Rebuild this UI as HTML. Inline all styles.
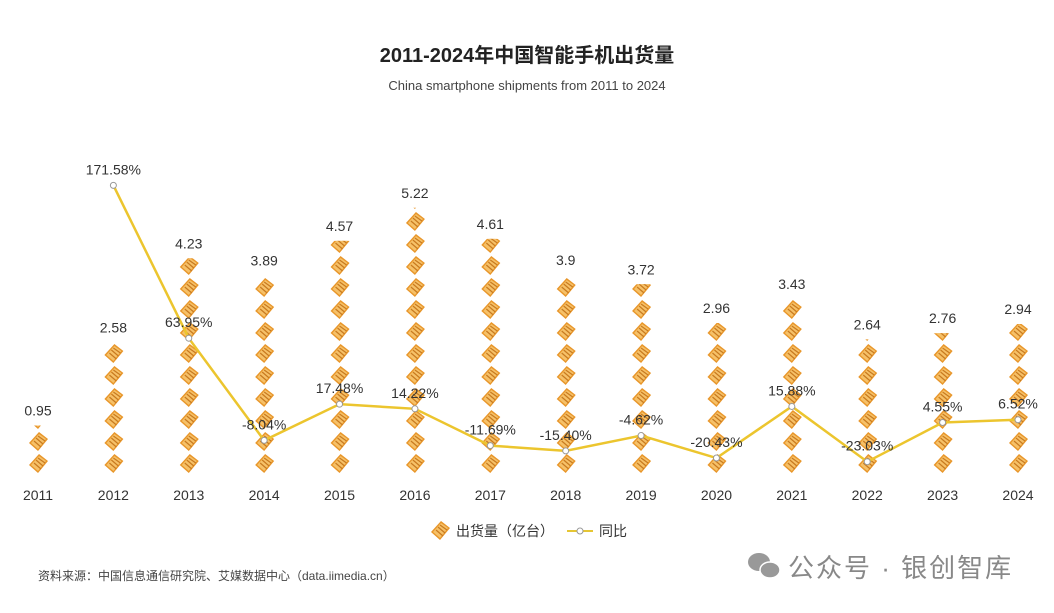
<!DOCTYPE html>
<html><head><meta charset="utf-8">
<style>
body{margin:0;background:#fff;}
svg text{font-family:"Liberation Sans","Noto Sans CJK SC",sans-serif;}
</style></head>
<body>
<svg id="chart" width="1054" height="608" viewBox="0 0 1054 608" xmlns="http://www.w3.org/2000/svg">
<defs>
<g id="sym">
  <polygon points="3,13 13,2 22,9 12,21" fill="#e8962a"/>
  <polygon points="5,13 13,4 20,9 12,19" fill="#f6c168"/>
  <line x1="8" y1="11" x2="15" y2="17" stroke="#c87a20" stroke-width="1.2"/>
  <line x1="10" y1="8" x2="17" y2="14" stroke="#c87a20" stroke-width="1.2"/>
  <line x1="12" y1="6" x2="19" y2="11" stroke="#c87a20" stroke-width="1.2"/>
</g>
</defs>
<text x="527" y="62" text-anchor="middle" font-size="20" font-weight="bold" fill="#222">2011-2024年中国智能手机出货量</text>
<text x="527" y="90" text-anchor="middle" font-size="13" fill="#444">China smartphone shipments from 2011 to 2024</text>
<g id="bars"></g>
<g id="line"></g>
<g id="xaxis"></g>
<g>
  <use href="#sym" x="428" y="519"/>
  <text x="456" y="536" font-size="14" fill="#333">出货量（亿台）</text>
  <line x1="567" y1="531" x2="593" y2="531" stroke="#e6c633" stroke-width="2"/>
  <circle cx="580" cy="531" r="3" fill="#fff" stroke="#999"/>
  <text x="599" y="536" font-size="14" fill="#333">同比</text>
</g>
<text x="38" y="580" font-size="12" fill="#444">资料来源：中国信息通信研究院、艾媒数据中心（data.iimedia.cn）</text>
<g fill="#999">
  <ellipse cx="759" cy="562" rx="11" ry="9"/>
  <ellipse cx="770" cy="570" rx="10" ry="8" stroke="#fff" stroke-width="1.5"/>
</g>
<text x="788" y="577" font-size="26" letter-spacing="2" fill="#888">公众号 · 银创智库</text>
</svg>
<script>
const years=["2011","2012","2013","2014","2015","2016","2017","2018","2019","2020","2021","2022","2023","2024"];
const shipments=[0.95,2.58,4.23,3.89,4.57,5.22,4.61,3.9,3.72,2.96,3.43,2.64,2.76,2.94];
const shipmentLabels=["0.95","2.58","4.23","3.89","4.57","5.22","4.61","3.9","3.72","2.96","3.43","2.64","2.76","2.94"];
const yoy=[null,171.58,63.95,-8.04,17.48,14.22,-11.69,-15.40,-4.62,-20.43,15.88,-23.03,4.55,6.52];
const yoyLabels=["","171.58%","63.95%","-8.04%","17.48%","14.22%","-11.69%","-15.40%","-4.62%","-20.43%","15.88%","-23.03%","4.55%","6.52%"];
const NS="http://www.w3.org/2000/svg";
const x=i=>38+i*(1018-38)/(years.length-1);
const base=474;
const yBar=v=>base-v*51;
const yPct=p=>429-p*1.42;
const bars=document.getElementById('bars'),line=document.getElementById('line'),xa=document.getElementById('xaxis');
function mk(t,a,p){const e=document.createElementNS(NS,t);for(const k in a)e.setAttribute(k,a[k]);p.appendChild(e);return e;}
const defs=document.querySelector('defs');
shipments.forEach((v,i)=>{
  const top=yBar(v),cx=x(i);
  const cp=mk('clipPath',{id:'c'+i},defs);
  mk('rect',{x:cx-14,y:top,width:28,height:base-top},cp);
  const g=mk('g',{'clip-path':'url(#c'+i+')'},bars);
  
  
  for(let yy=base-22;yy>top-22;yy-=22){mk('use',{href:'#sym',x:cx-12,y:yy},g);}
  const t=mk('text',{x:cx,y:top-10,'text-anchor':'middle','font-size':'14',fill:'#333'},bars);
  t.textContent=shipmentLabels[i];
  
  
  const xt=mk('text',{x:cx,y:500,'text-anchor':'middle','font-size':'14',fill:'#333'},xa);
  xt.textContent=years[i];
  
  
});
let pts=[];
yoy.forEach((p,i)=>{if(p!==null)pts.push([x(i),yPct(p)]);});
const pl=mk('polyline',{points:pts.map(p=>p.join(',')).join(' '),fill:'none',stroke:'#ecc52e','stroke-width':'2.5'},line);


yoy.forEach((p,i)=>{
  if(p===null)return;
  const c=mk('circle',{cx:x(i),cy:yPct(p),r:3,fill:'#fff',stroke:'#999','stroke-width':'1'},line);
  
  
  const t=mk('text',{x:x(i),y:yPct(p)-11,'text-anchor':'middle','font-size':'14',fill:'#333'},line);
  t.textContent=yoyLabels[i];
  
  
});
</script>
</body></html>
